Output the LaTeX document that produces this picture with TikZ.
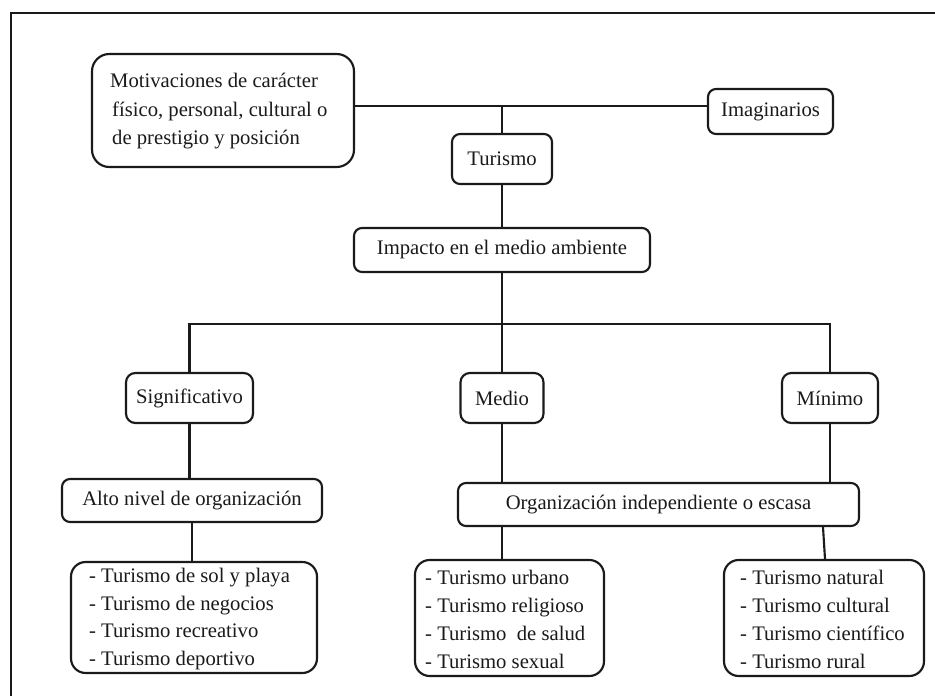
\documentclass[tikz,border=0pt]{standalone}
\usepackage{fontspec}
\setmainfont{Liberation Serif}
\usetikzlibrary{calc}
\definecolor{ink}{HTML}{1A1A1A}
\begin{document}
\begin{tikzpicture}[x=0.75pt,y=-0.75pt,
  box/.style={draw=ink,line width=1.6pt,rounded corners=6pt,inner sep=0pt,align=center,
    text=ink,font=\fontsize{15.5}{20}\selectfont},
  dims/.style 2 args={minimum width=#1*0.75pt,minimum height=#2*0.75pt},
  listbox/.style={box,rounded corners=11pt},
  listtext/.style={anchor=west,inner sep=0pt,align=left,text=ink,font=\fontsize{15.5}{20.6}\selectfont},
  conn/.style={draw=ink,line width=1.6pt}]
\useasboundingbox (0,0) rectangle (935,696);
\fill[white] (0,0) rectangle (935,696);
% outer frame (cut on the right and bottom)
\draw[ink,line width=1.6pt] (11,696) -- (11,13) -- (935,13);

% top level
\node[box,rounded corners=13pt,dims={262}{113}] (mot) at (223,110.5) {};
\node[listtext,font=\fontsize{15.5}{21.4}\selectfont] (mott) at ($(mot.west)+(19,1)$)
  {Motivaciones de carácter\\\hspace{1.5pt}físico, personal, cultural o\\\hspace{1.5pt}de prestigio y posición};
\node[box,dims={125}{45}] (ima) at (770.5,111.5) {Imaginarios};
\node[box,dims={100}{50}] (tur) at (502,159) {Turismo};
\node[box,dims={296}{44}] (imp) at (502,250) {Impacto en el medio ambiente};

% impact levels
\node[box,rounded corners=7pt,dims={127}{50}] (sig) at (189.5,398) {Significativo};
\node[box,rounded corners=7pt,dims={83}{50}] (med) at (502,398) {Medio};
\node[box,rounded corners=7pt,dims={96}{50}] (min) at (830,398) {Mínimo};

% organisation
\node[box,dims={260}{43}] (alto) at (192,500.5) {Alto nivel de organización};
\node[box,dims={401}{43}] (org) at (658.5,504.5) {Organización independiente o escasa};

% lists
\node[listbox,dims={246}{111}] (l1) at (194,617.5) {};
\node[listtext] (l1t) at ($(l1.west)+(19,1.5)$)
  {- Turismo de sol y playa\\- Turismo de negocios\\- Turismo recreativo\\- Turismo deportivo};
\node[listbox,dims={189}{116}] (l2) at (509.5,618) {};
\node[listtext,font=\fontsize{15.5}{21}\selectfont] (l2t) at ($(l2.west)+(11,1.5)$)
  {- Turismo urbano\\- Turismo religioso\\- Turismo\ \ de salud\\- Turismo sexual};
\node[listbox,dims={200}{116}] (l3) at (824,618) {};
\node[listtext,font=\fontsize{15.5}{21}\selectfont] (l3t) at ($(l3.west)+(17,1.5)$)
  {- Turismo natural\\- Turismo cultural\\- Turismo científico\\- Turismo rural};

% connectors
\coordinate (ty) at (502,106);
\coordinate (by) at (502,324);
\draw[conn] (mot.east |- ty) -- (ima.west |- ty);
\draw[conn] (ty) -- (tur.north);
\draw[conn] (tur.south) -- (imp.north);
\draw[conn] (imp.south) -- (med.north);
\draw[conn] (sig.north) |- (by) -| (min.north);
\draw[conn] (sig.south) -- (sig.south |- alto.north);
\draw[conn] (alto.south) -- (alto.south |- l1.north);
\draw[conn] (med.south) -- (med.south |- org.north);
\draw[conn] (min.south) -- (min.south |- org.north);
\draw[conn] (med.south |- org.south) -- (med.south |- l2.north);
\draw[conn] ($(min.south |- org.south)+(-7,0)$) -- ($(min.south |- l3.north)+(-5,0)$);
\end{tikzpicture}
\end{document}
